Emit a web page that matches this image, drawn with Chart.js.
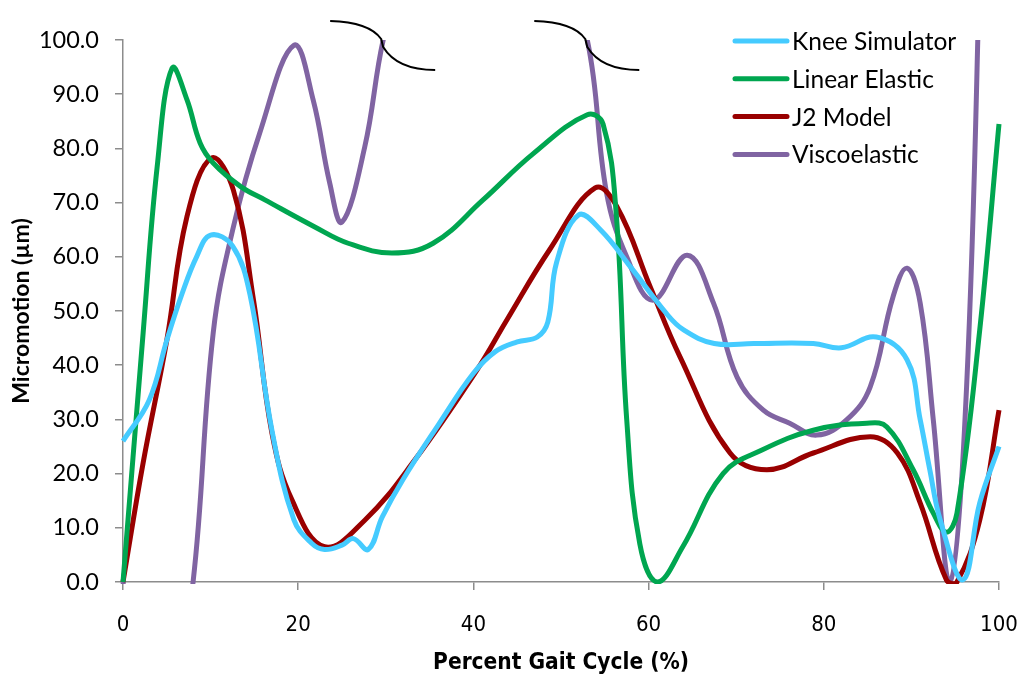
<!DOCTYPE html>
<html>
<head>
<meta charset="utf-8">
<script src="https://cdn.jsdelivr.net/npm/chart.js@4"></script>
<style>
  html, body { margin: 0; padding: 0; background: #ffffff; }
  canvas { display: block; }
</style>
</head>
<body>
<canvas id="gait" width="1024" height="674"></canvas>
<script>
// Micromotion over the gait cycle for four modelling approaches
const seriesNames = ['Knee Simulator', 'Linear Elastic', 'J2 Model', 'Viscoelastic'];
const xTicks = [0, 20, 40, 60, 80, 100];

const kneeX = [0, 3, 5, 6.7, 8.4, 10, 12.5, 14.5, 17, 19.5, 21.5, 23, 25, 26.3, 28, 29.6, 32, 36, 40, 42.5, 45, 47.3, 48.5, 49.5, 52, 54.5, 58, 62, 64, 67.5, 72, 78.8, 82, 86, 89.5, 91, 92.1, 93.3, 95.9, 97.8, 100];
const kneeY = [26, 33.6, 44.6, 53, 60, 64, 62, 53, 28, 11.5, 7.2, 6, 6.8, 8, 6, 12, 19, 29, 38.5, 42.5, 44.3, 45.2, 48, 59, 67.7, 65, 58, 49.6, 46.5, 44, 44, 44, 43.2, 45.2, 41, 30, 20.7, 11.4, 0.4, 14.6, 25];

const elasticX = [0, 2.3, 3.9, 5.6, 7.3, 8.8, 10.3, 13.4, 16.2, 21.9, 25.7, 30.7, 35.4, 41.1, 46.8, 53, 54.8, 56.3, 57.5, 59, 61, 63.9, 68.5, 73, 78.8, 84.9, 87.2, 90.2, 92.5, 94, 95.2, 97.8, 100];
const elasticY = [0, 46, 76.6, 94.8, 89, 81, 77.3, 73, 70.5, 65.5, 62.5, 60.7, 62.5, 70.5, 79, 86.2, 84.5, 68, 30, 7, 0, 6.5, 20, 24.4, 28, 29.3, 28.6, 20.7, 12.7, 9.2, 12.7, 46.5, 84.5];

const j2X = [0, 2.3, 5, 7.3, 10.1, 12.6, 14.9, 17, 19.3, 23, 27.6, 33.3, 40.4, 43.8, 48.7, 53.9, 56.4, 60.2, 63.6, 69.3, 73.5, 78.8, 85.3, 88.4, 91, 94, 95.2, 97.8, 100];
const j2Y = [0, 22, 44.6, 67.4, 78.2, 72.3, 52, 27.5, 15.1, 6.5, 11.4, 22.5, 39.1, 48.3, 61.3, 72.7, 69.2, 54.4, 41.5, 23.8, 20.7, 23.8, 26.8, 23.8, 14.6, 0.4, 0, 11.4, 31.7];

const viscoX = [0, 4, 8, 10.3, 12.6, 15.6, 19.5, 21.7, 23.6, 25, 27.6, 29.7, 35, 41, 47, 53, 55.2, 57.5, 60.5, 64.4, 67.4, 70.1, 73.1, 76.1, 79.2, 82.6, 85.3, 87.9, 89.5, 91, 92.5, 94.4, 96.3, 98, 100];
const viscoY = [0, -45, 0, 46, 65.5, 82.8, 99, 89, 73.6, 66.4, 80.3, 100, 135, 150, 135, 100, 71.8, 60, 52, 60.3, 51.5, 37.8, 31.7, 29.3, 27.1, 29.9, 36, 52.6, 57.9, 51.5, 29.9, 0, 36, 125, 230];

const colors = ['#45CBFF', '#00A650', '#990000', '#8064A2'];

function pairs(xs, ys) { return xs.map((x, i) => ({ x: x, y: ys[i] })); }

const baseFont = 'Lato, "Open Sans", sans-serif';
const narrowFont = '"Liberation Sans Narrow", "DejaVu Sans Condensed", sans-serif';

// Legend drawn inside the plot, upper right, one row per series
const insideLegend = {
  id: 'insideLegend',
  afterDraw(chart) {
    const ctx = chart.ctx;
    const area = chart.chartArea;
    ctx.save();
    ctx.font = '24.5px ' + baseFont;
    ctx.textBaseline = 'middle';
    ctx.textAlign = 'left';
    chart.data.datasets.forEach((ds, i) => {
      const y = area.top + 1 + i * 37.8;
      const x0 = area.right - 264;
      ctx.strokeStyle = ds.borderColor;
      ctx.lineWidth = 5;
      ctx.lineCap = 'round';
      ctx.beginPath();
      ctx.moveTo(x0, y);
      ctx.lineTo(x0 + 52, y);
      ctx.stroke();
      ctx.fillStyle = '#000000';
      ctx.fillText(ds.label, x0 + 57, y + 1);
    });
    ctx.restore();
  }
};

// Scale-break marks where the viscoelastic curve leaves / re-enters the top of the axis
const breakMarks = {
  id: 'breakMarks',
  afterDatasetsDraw(chart) {
    const ds = chart.data.datasets[3];
    const xs = chart.scales.x, ys = chart.scales.y;
    const ctx = chart.ctx;
    ctx.save();
    ctx.strokeStyle = '#000000';
    ctx.lineWidth = 2;
    ds.data.forEach((p, i) => {
      if (p.y !== ys.max) return;
      const cx = xs.getPixelForValue(p.x);
      const cy = ys.getPixelForValue(p.y) - (i > 20 ? 4 : 0);
      ctx.beginPath();
      ctx.moveTo(cx - 53, cy - 19);
      ctx.quadraticCurveTo(cx - 14, cy - 18, cx - 2, cy - 1);
      ctx.lineTo(cx, cy + 7);
      ctx.quadraticCurveTo(cx + 14, cy + 30, cx + 52, cy + 30);
      ctx.stroke();
    });
    ctx.restore();
  }
};

const lineDefaults = {
  borderWidth: 5,
  pointRadius: 0,
  tension: 0.4,
  capBezierPoints: false,
  fill: false,
  clip: { left: 3, top: 0, right: 3, bottom: 2 }
};

new Chart(document.getElementById('gait'), {
  type: 'line',
  data: {
    datasets: [
      Object.assign({ label: seriesNames[0], data: pairs(kneeX, kneeY), borderColor: colors[0] }, lineDefaults),
      Object.assign({ label: seriesNames[1], data: pairs(elasticX, elasticY), borderColor: colors[1] }, lineDefaults),
      Object.assign({ label: seriesNames[2], data: pairs(j2X, j2Y), borderColor: colors[2] }, lineDefaults),
      Object.assign({ label: seriesNames[3], data: pairs(viscoX, viscoY), borderColor: colors[3] }, lineDefaults)
    ]
  },
  options: {
    responsive: false,
    animation: false,
    devicePixelRatio: 1,
    layout: { padding: { top: 40, right: 25, left: 0, bottom: 0 } },
    plugins: { legend: { display: false }, tooltip: { enabled: false } },
    scales: {
      x: {
        type: 'linear',
        min: 0,
        max: 100,
        afterBuildTicks(scale) { scale.ticks = xTicks.map(v => ({ value: v })); },
        afterFit(scale) {
          scale.height = 92;
          scale.paddingLeft = 0;
          scale.paddingRight = 0;
        },
        grid: { drawOnChartArea: false, drawTicks: true, tickLength: 8, color: '#8c8c8c', lineWidth: 1.5 },
        border: { display: true, color: '#8c8c8c', width: 1.5 },
        ticks: { color: '#000000', font: { family: narrowFont, size: 22 }, padding: 22, maxRotation: 0 },
        title: { display: true, text: 'Percent Gait Cycle (%)', color: '#000000', font: { family: narrowFont, size: 22.5, weight: 'bold', lineHeight: 1 }, padding: { top: 0, bottom: 0 } }
      },
      y: {
        min: 0,
        max: 100,
        afterFit(scale) {
          scale.width = 123;
          scale.paddingTop = 0;
          scale.paddingBottom = 0;
        },
        grid: { drawOnChartArea: false, drawTicks: true, tickLength: 8, color: '#8c8c8c', lineWidth: 1.5 },
        border: { display: true, color: '#8c8c8c', width: 1.5 },
        ticks: { stepSize: 10, color: '#000000', font: { family: baseFont, size: 23.5 }, padding: 16, callback: v => v.toFixed(1) },
        title: { display: true, text: 'Micromotion (µm)', color: '#000000', font: { family: baseFont, size: 23, weight: 'bold' }, padding: { top: 8, bottom: 0 } }
      }
    }
  },
  plugins: [breakMarks, insideLegend]
});
</script>
</body>
</html>
